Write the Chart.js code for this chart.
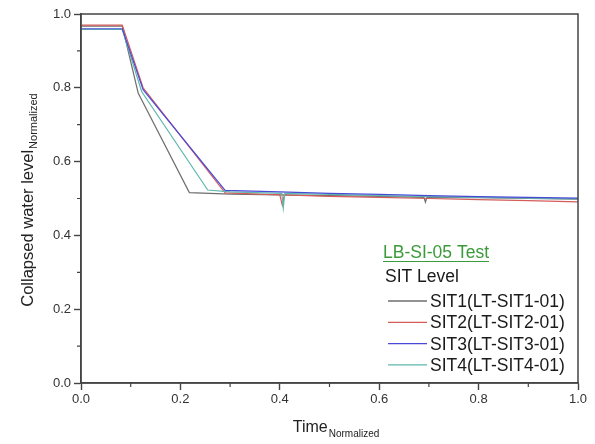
<!DOCTYPE html>
<html>
<head>
<meta charset="utf-8">
<script src="https://cdn.jsdelivr.net/npm/chart.js@4/dist/chart.umd.min.js"></script>
<style>
  html, body { margin: 0; padding: 0; background: #fff; }
  #wrap { width: 595px; height: 444px; }
</style>
</head>
<body>
<div id="wrap"><canvas id="levelChart" width="595" height="444"></canvas></div>
<script>
// ==========================================
// DATOS
// ==========================================
const seriesNames = ['SIT1(LT-SIT1-01)', 'SIT2(LT-SIT2-01)', 'SIT3(LT-SIT3-01)', 'SIT4(LT-SIT4-01)'];
const seriesColors = ['#6e6e6e', '#d65c5c', '#4a4ad8', '#5fb8ac'];

const sit1Time  = [0, 0.083, 0.115, 0.218, 0.30, 0.40, 0.50, 0.60, 0.690, 0.693, 0.696, 0.80, 0.90, 1.0];
const sit1Level = [0.967, 0.967, 0.786, 0.516, 0.512, 0.510, 0.508, 0.506, 0.503, 0.490, 0.503, 0.502, 0.500, 0.498];

const sit2Time  = [0, 0.083, 0.125, 0.290, 0.40, 0.405, 0.409, 0.50, 0.60, 0.70, 0.80, 0.90, 1.0];
const sit2Level = [0.970, 0.970, 0.800, 0.515, 0.510, 0.482, 0.510, 0.506, 0.503, 0.500, 0.497, 0.494, 0.491];

const sit3Time  = [0, 0.083, 0.125, 0.290, 0.40, 0.50, 0.60, 0.70, 0.80, 0.90, 1.0];
const sit3Level = [0.960, 0.960, 0.795, 0.522, 0.518, 0.514, 0.511, 0.508, 0.505, 0.503, 0.501];

const sit4Time  = [0, 0.083, 0.122, 0.255, 0.30, 0.404, 0.407, 0.410, 0.50, 0.60, 0.70, 0.80, 0.90, 1.0];
const sit4Level = [0.958, 0.958, 0.790, 0.523, 0.518, 0.514, 0.474, 0.514, 0.511, 0.508, 0.505, 0.503, 0.501, 0.499];

const xTicks = [0, 0.2, 0.4, 0.6, 0.8, 1.0];
const yTicks = [0, 0.2, 0.4, 0.6, 0.8, 1.0];

const legendTitle = 'LB-SI-05 Test';
const legendSubtitle = 'SIT Level';
const xTitle = 'Time';
const yTitle = 'Collapsed water level';
const titleSub = 'Normalized';

const FONT = '"Liberation Sans", Arial, sans-serif';

function toPoints(xs, ys) {
    return xs.map((x, i) => ({ x: x, y: ys[i] }));
}

// ==========================================
// PLUGIN: marco, ticks menores, títulos, leyenda
// ==========================================
const decorPlugin = {
    id: 'decor',
    afterDraw(chart) {
        const ctx = chart.ctx;
        const a = chart.chartArea;
        const xs = chart.scales.x;
        const ys = chart.scales.y;
        ctx.save();

        // marco
        ctx.strokeStyle = '#444';
        ctx.lineWidth = 1.5;
        ctx.strokeRect(a.left, a.top, a.right - a.left, a.bottom - a.top);

        // ticks menores
        ctx.lineWidth = 1.2;
        ctx.beginPath();
        for (let i = 0; i < xTicks.length - 1; i++) {
            const px = xs.getPixelForValue((xTicks[i] + xTicks[i + 1]) / 2);
            ctx.moveTo(px, a.bottom);
            ctx.lineTo(px, a.bottom + 4);
        }
        for (let i = 0; i < yTicks.length - 1; i++) {
            const py = ys.getPixelForValue((yTicks[i] + yTicks[i + 1]) / 2);
            ctx.moveTo(a.left, py);
            ctx.lineTo(a.left - 4, py);
        }
        ctx.stroke();

        // título eje X
        ctx.fillStyle = '#222';
        ctx.textBaseline = 'alphabetic';
        ctx.textAlign = 'left';
        ctx.font = '16px ' + FONT;
        const wMain = ctx.measureText(xTitle).width;
        ctx.font = '10px ' + FONT;
        const wSub = ctx.measureText(titleSub).width;
        const cx = (a.left + a.right) / 2 + 6;
        let tx = cx - (wMain + wSub) / 2;
        ctx.font = '16px ' + FONT;
        ctx.fillText(xTitle, tx, 432);
        ctx.font = '10px ' + FONT;
        ctx.fillText(titleSub, tx + wMain + 1, 437);

        // título eje Y
        ctx.save();
        ctx.translate(33, (a.top + a.bottom) / 2 + 2);
        ctx.rotate(-Math.PI / 2);
        ctx.font = '16.5px ' + FONT;
        const yMain = ctx.measureText(yTitle).width;
        ctx.font = '11px ' + FONT;
        const ySub = ctx.measureText(titleSub).width;
        let ty = -(yMain + ySub) / 2;
        ctx.font = '16.5px ' + FONT;
        ctx.fillText(yTitle, ty, 0);
        ctx.font = '11px ' + FONT;
        ctx.fillText(titleSub, ty + yMain + 1, 4);
        ctx.restore();

        // leyenda
        ctx.font = '17.5px ' + FONT;
        ctx.fillStyle = '#3b9b3b';
        ctx.fillText(legendTitle, 383, 258);
        const lw = ctx.measureText(legendTitle).width;
        ctx.strokeStyle = '#3b9b3b';
        ctx.lineWidth = 1.2;
        ctx.beginPath();
        ctx.moveTo(383, 261.5);
        ctx.lineTo(383 + lw, 261.5);
        ctx.stroke();

        ctx.fillStyle = '#1a1a1a';
        ctx.fillText(legendSubtitle, 385, 282);

        seriesNames.forEach((name, i) => {
            const by = 307 + i * 21.3;
            ctx.strokeStyle = seriesColors[i];
            ctx.lineWidth = 1.3;
            ctx.beginPath();
            ctx.moveTo(388, by - 6);
            ctx.lineTo(427, by - 6);
            ctx.stroke();
            ctx.fillStyle = '#1a1a1a';
            ctx.fillText(name, 430, by);
        });

        ctx.restore();
    }
};

// ==========================================
// GRÁFICO
// ==========================================
const ctx1 = document.getElementById('levelChart').getContext('2d');
const levelChart = new Chart(ctx1, {
    type: 'line',
    data: {
        datasets: [
            { label: seriesNames[0], data: toPoints(sit1Time, sit1Level), borderColor: seriesColors[0], order: 3 },
            { label: seriesNames[1], data: toPoints(sit2Time, sit2Level), borderColor: seriesColors[1], order: 2 },
            { label: seriesNames[2], data: toPoints(sit3Time, sit3Level), borderColor: seriesColors[2], order: 0 },
            { label: seriesNames[3], data: toPoints(sit4Time, sit4Level), borderColor: seriesColors[3], order: 1 }
        ].map(d => Object.assign(d, { borderWidth: 1.2, pointRadius: 0, tension: 0, fill: false }))
    },
    options: {
        responsive: false,
        animation: false,
        layout: { padding: { left: 0, right: 17, top: 14, bottom: 0 } },
        plugins: {
            legend: { display: false },
            tooltip: { enabled: false }
        },
        scales: {
            x: {
                type: 'linear',
                min: 0,
                max: 1,
                afterFit: s => { s.height = 61; },
                afterBuildTicks: s => { s.ticks = xTicks.map(v => ({ value: v })); },
                ticks: {
                    callback: v => v.toFixed(1),
                    color: '#333',
                    font: { family: FONT, size: 13 },
                    padding: 2,
                    maxRotation: 0
                },
                grid: { drawOnChartArea: false, tickLength: 7, tickWidth: 1.4, color: '#444' },
                border: { display: true, color: '#444', width: 1.5 }
            },
            y: {
                min: 0,
                max: 1,
                afterFit: s => { s.width = 81; },
                afterBuildTicks: s => { s.ticks = yTicks.map(v => ({ value: v })); },
                ticks: {
                    callback: v => v.toFixed(1),
                    color: '#333',
                    font: { family: FONT, size: 13 },
                    padding: 3
                },
                grid: { drawOnChartArea: false, tickLength: 7, tickWidth: 1.4, color: '#444' },
                border: { display: true, color: '#444', width: 1.5 }
            }
        }
    },
    plugins: [decorPlugin]
});
</script>
</body>
</html>
